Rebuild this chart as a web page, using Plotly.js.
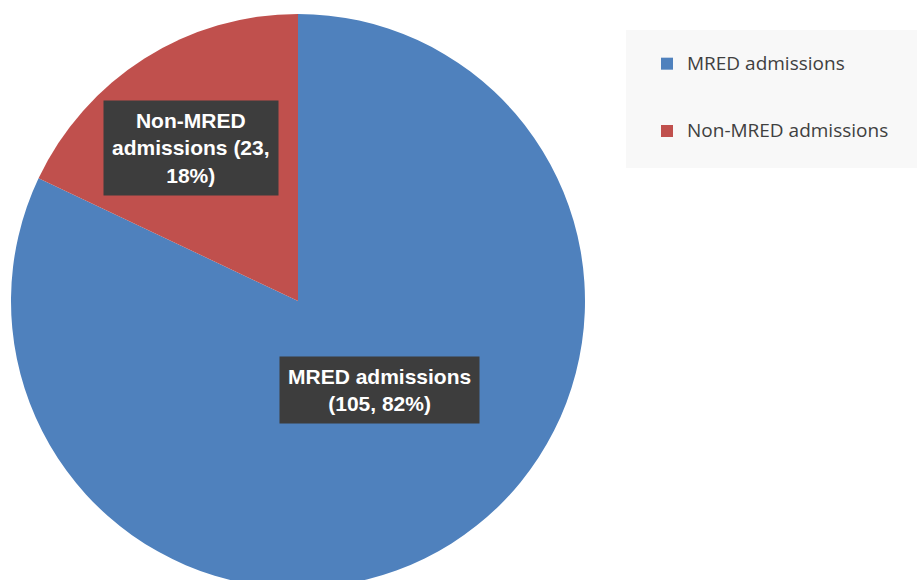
<!DOCTYPE html>
<html>
<head>
<meta charset="utf-8">
<script src="https://cdn.plot.ly/plotly-3.0.1.min.js"></script>
<style>
html, body { margin: 0; padding: 0; overflow: hidden; background: #ffffff; }
#chart { width: 917px; height: 602px; }
</style>
</head>
<body>
<div id="chart"></div>
<script>
// Data
const categories = ["MRED admissions", "Non-MRED admissions"];
const admissions = [105, 23];
const sliceColors = ["#4f81bd", "#c0504d"];
// Label texts (line-wrapped as in the reference)
const labelLines = [["MRED admissions"], ["Non-MRED", "admissions"]];

const W = 917, H = 602;
const total = admissions.reduce((a, b) => a + b, 0);
const pct = admissions.map(v => Math.round(100 * v / total));

function labelText(i) {
  const lines = labelLines[i].slice();
  const tail = "(" + admissions[i] + ", " + pct[i] + "%)";
  if (i === 0) { lines.push(tail); }
  else {
    lines[lines.length - 1] = lines[lines.length - 1] + " (" + admissions[i] + ",";
    lines.push(pct[i] + "%)");
  }
  return lines.join("<br>");
}

// padded legend entries (blank lines give the wide vertical spacing)
const legendLabels = categories.map(c => " <br><span style=\"font-size:19px\">" + c + "</span><br> ");

const trace = {
  type: "pie",
  labels: legendLabels,
  values: admissions,
  sort: false,
  direction: "clockwise",
  rotation: 0,
  textinfo: "none",
  hoverinfo: "none",
  marker: { colors: sliceColors, line: { width: 0 } },
  domain: { x: [11 / W, 585 / W], y: [(H - 588) / H, (H - 14) / H] }
};

const labelPos = [[379, 389.5], [191, 147.5]];
const annotations = [0, 1].map(i => ({
  xref: "paper", yref: "paper",
  x: labelPos[i][0] / W, y: 1 - labelPos[i][1] / H,
  xanchor: "center", yanchor: "middle",
  text: labelText(i),
  showarrow: false,
  align: "center",
  font: { family: "Liberation Sans, Arial, sans-serif", size: 21, color: "#ffffff", weight: "bold" },
  bgcolor: "#3d3d3d",
  borderpad: 8
}));

const layout = {
  width: W, height: H,
  margin: { l: 0, r: 0, t: 0, b: 0 },
  paper_bgcolor: "#ffffff",
  showlegend: true,
  legend: {
    x: 647 / W, y: 1 - 25 / H, xanchor: "left", yanchor: "top",
    bgcolor: "rgba(0,0,0,0)",
    font: { family: "Open Sans, sans-serif", size: 16.5, color: "#404040" },
    valign: "middle",
    itemclick: false
  },
  shapes: [{
    type: "rect", xref: "paper", yref: "paper", layer: "below",
    x0: 626 / W, x1: 1, y0: 1 - 168 / H, y1: 1 - 30 / H,
    fillcolor: "#f8f8f8", line: { width: 0 }
  }],
  annotations: annotations
};

Plotly.newPlot("chart", [trace], layout, { displayModeBar: false, staticPlot: true });
</script>
</body>
</html>
